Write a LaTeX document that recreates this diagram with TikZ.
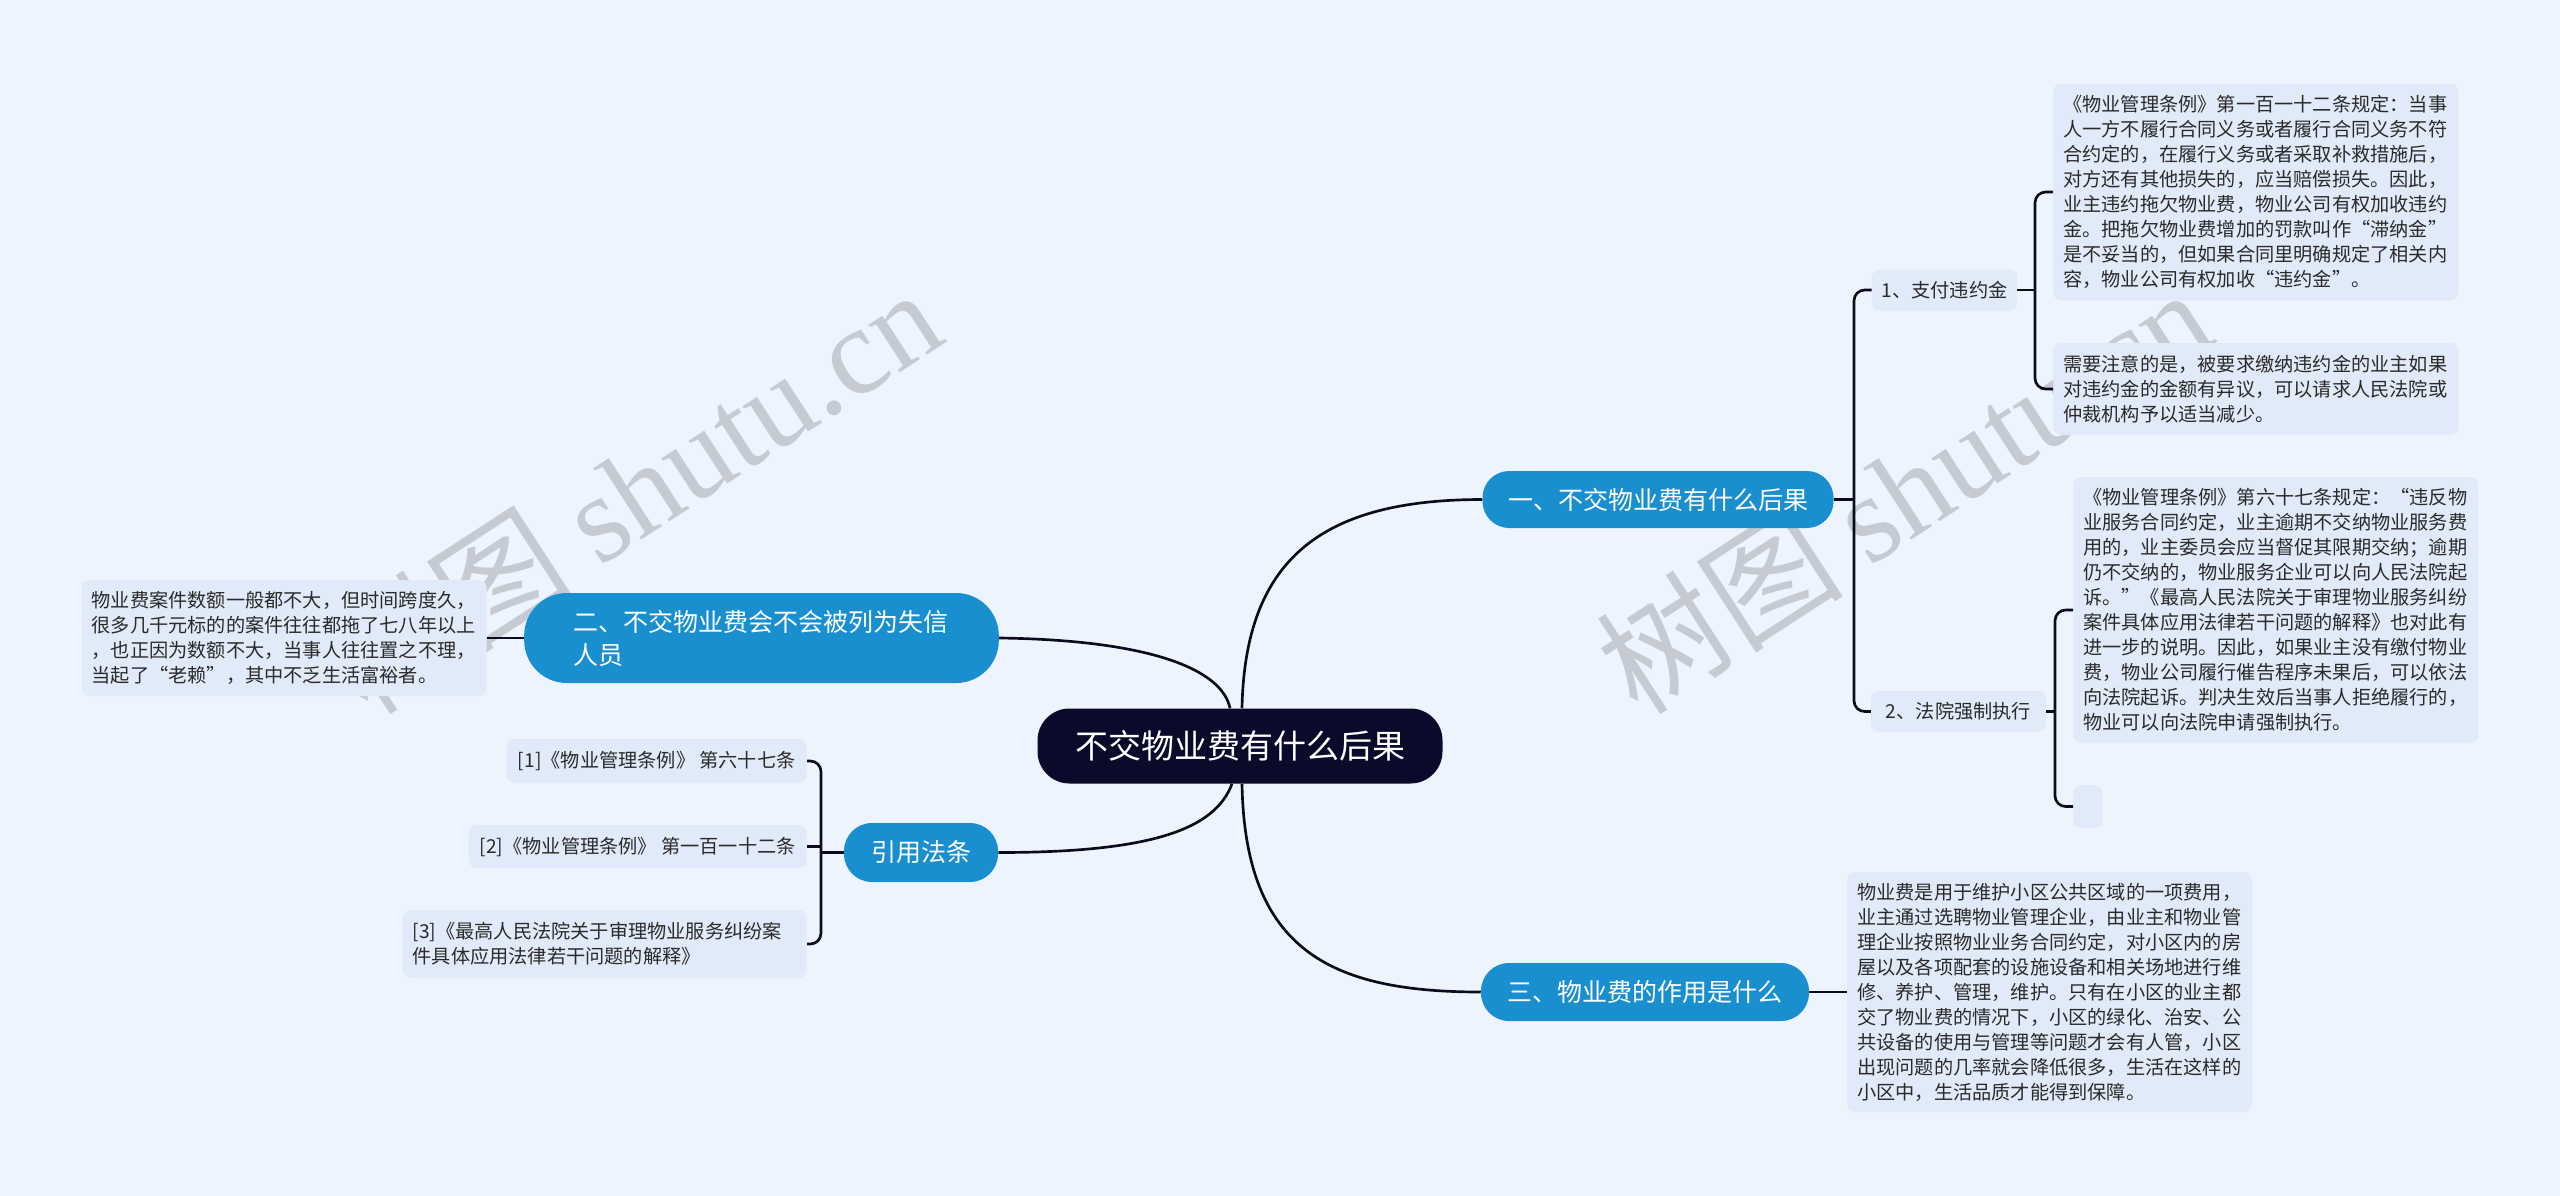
\documentclass[tikz,border=0pt]{standalone}
\usepackage{fontspec}
\setmainfont{Noto Sans CJK SC}
\newfontfamily\wmlatin{Liberation Serif}
\usetikzlibrary{calc}
\definecolor{bg}{HTML}{EEF4FE}
\definecolor{leaff}{HTML}{E1EAF9}
\definecolor{bblue}{HTML}{1A8FD0}
\definecolor{navy}{HTML}{0C0A2A}
\definecolor{linec}{HTML}{0C0A1E}
\definecolor{txt}{HTML}{2A2A2A}
\definecolor{wmc}{HTML}{C5CAD3}
\newcommand\leaffont{\fontsize{14.4pt}{18.75pt}\selectfont}
\newcommand\branchfont{\fontsize{18.75pt}{24.75pt}\selectfont}
\newcommand\rootfont{\fontsize{24.75pt}{30pt}\selectfont}
\begin{document}
\begin{tikzpicture}[x=0.75pt,y=-0.75pt,
  conn/.style={draw=linec, line width=2pt},
  rootbox/.style={fill=navy, text=white, rounded corners=24pt, minimum width=303.75pt, minimum height=56.25pt, font=\rootfont, inner sep=0},
  branchbox/.style={fill=bblue, text=white, font=\branchfont, inner sep=0},
  subbox/.style={fill=leaff, text=txt, rounded corners=6pt, font=\leaffont, inner sep=0, minimum height=30.75pt},
  leafbox/.style={fill=leaff, text=txt, rounded corners=6pt, font=\leaffont, align=left, inner xsep=7.5pt, inner ysep=0, text width=288.75pt},
  refbox/.style={fill=leaff, text=txt, rounded corners=6pt, font=\leaffont, align=left, inner sep=0},
  wm/.style={text=wmc, font=\fontsize{93pt}{100pt}\selectfont, inner sep=0}
]
\path[fill=bg] (0,0) rectangle (2560,1196);

% watermarks
\node[wm, rotate=33, anchor=base west] (wm1) at (368,718) {树图 {\wmlatin shutu.cn}};
\node[wm, rotate=33, anchor=base west] (wm2) at (1638,718) {树图 {\wmlatin shutu.cn}};

% root and branches
\node[rootbox] (c) at (1240,746) {不交物业费有什么后果};
\node[branchbox, rounded corners=20pt, minimum width=263.25pt, minimum height=42.75pt] (b1) at (1658,499.5) {一、不交物业费有什么后果};
\node[branchbox, rounded corners=32pt, align=left, text width=282pt, inner xsep=37pt, minimum height=67.5pt] (b2) at (761.5,638) {二、不交物业费会不会被列为失信\\人员};
\node[branchbox, rounded corners=21pt, minimum width=246pt, minimum height=43.5pt] (b3) at (1645,992) {三、物业费的作用是什么};
\node[branchbox, rounded corners=21pt, minimum width=115.5pt, minimum height=44.25pt] (b4) at (921,852.5) {引用法条};

% sub nodes
\node[subbox, minimum width=109pt] (s1) at (1944.5,290) {1、支付违约金};
\node[subbox, minimum width=131.25pt] (s2) at (1958.5,711.5) {2、法院强制执行};

% leaves
\node[leafbox, anchor=west, minimum height=162.75pt] (l1a) at (2053,192) {《物业管理条例》第一百一十二条规定：当事\\人一方不履行合同义务或者履行合同义务不符\\合约定的，在履行义务或者采取补救措施后，\\对方还有其他损失的，应当赔偿损失。因此，\\业主违约拖欠物业费，物业公司有权加收违约\\金。把拖欠物业费增加的罚款叫作“滞纳金”\\是不妥当的，但如果合同里明确规定了相关内\\容，物业公司有权加收“违约金”。};
\node[leafbox, anchor=west, minimum height=69pt] (l1b) at (2053,389) {需要注意的是，被要求缴纳违约金的业主如果\\对违约金的金额有异议，可以请求人民法院或\\仲裁机构予以适当减少。};
\node[leafbox, anchor=west, minimum height=199.5pt] (l2a) at (2073,610) {《物业管理条例》第六十七条规定：“违反物\\业服务合同约定，业主逾期不交纳物业服务费\\用的，业主委员会应当督促其限期交纳；逾期\\仍不交纳的，物业服务企业可以向人民法院起\\诉。”《最高人民法院关于审理物业服务纠纷\\案件具体应用法律若干问题的解释》也对此有\\进一步的说明。因此，如果业主没有缴付物业\\费，物业公司履行催告程序未果后，可以依法\\向法院起诉。判决生效后当事人拒绝履行的，\\物业可以向法院申请强制执行。};
\node[fill=leaff, rounded corners=6pt, anchor=west, minimum width=21.75pt, minimum height=32.25pt, inner sep=0] (l2b) at (2073,806.5) {};
\node[leafbox, anchor=west, minimum height=180pt] (l3) at (1847,992) {物业费是用于维护小区公共区域的一项费用，\\业主通过选聘物业管理企业，由业主和物业管\\理企业按照物业业务合同约定，对小区内的房\\屋以及各项配套的设施设备和相关场地进行维\\修、养护、管理，维护。只有在小区的业主都\\交了物业费的情况下，小区的绿化、治安、公\\共设备的使用与管理等问题才会有人管，小区\\出现问题的几率就会降低很多，生活在这样的\\小区中，生活品质才能得到保障。};
\node[leafbox, anchor=east, minimum height=87pt] (lb2) at (487,638) {物业费案件数额一般都不大，但时间跨度久，\\很多几千元标的的案件往往都拖了七八年以上\\，也正因为数额不大，当事人往往置之不理，\\当起了“老赖”，其中不乏生活富裕者。};

% references
\node[refbox, anchor=east, minimum width=225pt, minimum height=33pt] (r1) at (807,761) {[1]《物业管理条例》 第六十七条};
\node[refbox, anchor=east, minimum width=253.5pt, minimum height=32.25pt] (r2) at (807,846.5) {[2]《物业管理条例》 第一百一十二条};
\node[refbox, anchor=east, text width=288pt, inner xsep=7.5pt, minimum height=51pt] (r3) at (807,944) {[3]《最高人民法院关于审理物业服务纠纷案\\件具体应用法律若干问题的解释》};

% connectors from root
\draw[conn] ($(c.north)+(2,0)$) .. controls +(3,-149) and +(-161,0) .. (b1.west);
\draw[conn] ($(c.south)+(2,0)$) .. controls +(3,166) and +(-151,0) .. (b3.west);
\draw[conn] ($(c.south)+(-8,0)$) .. controls +(-17,46) and +(152,0) .. (b4.east);
\draw[conn] (b2.east) .. controls +(151,2) and +(-8,-39) .. ($(c.north)+(-10,0)$);

% brackets
\coordinate (k1) at (1854,499.5);
\draw[conn] (b1.east) -- (k1);
\draw[conn, rounded corners=8pt] (s1.west) -| (k1) |- (s2.west);

\coordinate (k2) at (2035,290);
\draw[conn] (s1.east) -- (k2);
\draw[conn, rounded corners=8pt] (l1a.west) -| (k2) |- (l1b.west);

\coordinate (k3) at (2055,711.5);
\draw[conn] (s2.east) -- (k3);
\draw[conn, rounded corners=8pt] (l2a.west) -| (k3) |- (l2b.west);

\draw[conn] (b3.east) -- (l3.west);
\draw[conn] (b2.west) -- (lb2.east);

\coordinate (k4) at (821,852.5);
\draw[conn] (b4.west) -- (k4);
\draw[conn, rounded corners=8pt] (r1.east) -| (k4) |- (r3.east);
\draw[conn] (r2.east) -- (k4 |- r2.east);
\end{tikzpicture}
\end{document}
